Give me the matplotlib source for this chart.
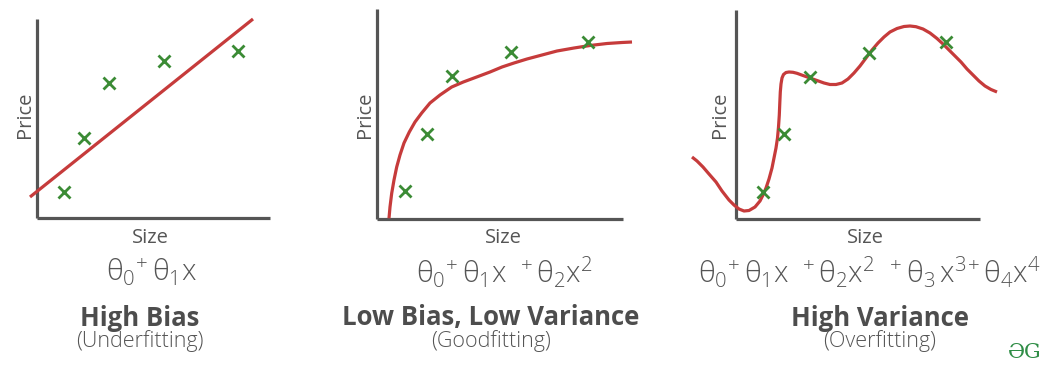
import matplotlib
matplotlib.use("Agg")
import matplotlib.pyplot as plt

# data (units: px from each panel's origin)
pts1_x = [27, 47, 72, 127, 201]
pts1_y = [26, 80, 135, 157, 167]
fit1_x = [-7, 216]
fit1_y = [21, 199]

pts2_x = [28, 50, 75, 134, 211]
pts2_y = [28, 85, 143, 167, 177]
fit2_x = [12, 13, 14.7, 17, 19.7, 23, 27, 32.3, 38, 44.7, 53, 63, 74.7, 86.3,
          99.7, 113, 125, 137, 150, 165, 180, 197, 213, 230, 245, 255]
fit2_y = [0.7, 12, 25.7, 39, 52, 64, 76, 87, 97, 106, 116, 124, 132, 137,
          142, 147, 152, 156, 160, 164, 168, 171, 173.5, 175.5, 176.5, 177]

pts3_x = [27, 48, 74, 133, 210]
pts3_y = [27, 85, 142, 166, 177]
fit3_x = [-44, -39, -33, -27, -20, -14, -7, -2, 3, 8, 13, 19, 24, 27, 30, 33,
          36, 38, 40, 41.5, 42.5, 43.3, 43.8, 44.3, 45, 46, 47.5, 50, 53, 57,
          61, 67, 74, 81, 88, 94, 100, 106, 112, 118, 124, 130, 136, 142, 148,
          154, 161, 168, 174, 180, 187, 194, 201, 207, 213, 219, 225, 231, 237,
          243, 249, 255, 261]
fit3_y = [62, 58, 52, 45, 37, 28, 19, 14, 10, 8, 8.5, 12, 18, 24, 31, 40, 51,
          61, 71, 81, 92, 104, 116, 127, 135, 141, 144.5, 146.5, 147, 146.7,
          145.7, 143.5, 141, 138.5, 136, 134.5, 134.5, 136, 140, 146, 153, 161,
          169, 176, 182, 187, 190.5, 192.5, 193, 192.3, 190, 186, 180.5, 175,
          169, 163, 157, 150, 144, 138, 133, 129.5, 127]

formulas = [r"$\theta_0{}^{+}\,\theta_1\mathrm{x}$",
            r"$\theta_0{}^{+}\,\theta_1\mathrm{x}\;\;{}^{+}\,\theta_2\mathrm{x}^2$",
            r"$\theta_0{}^{+}\,\theta_1\mathrm{x}\;\;{}^{+}\,\theta_2\mathrm{x}^2\;\;{}^{+}\,\theta_3\,\mathrm{x}^3{}^{+}\,\theta_4\mathrm{x}^4$"]
titles = ["High Bias", "Low Bias, Low Variance", "High Variance"]
subtitles = ["(Underfitting)", "(Goodfitting)", "(Overfitting)"]

plt.rcParams["font.family"] = ["Open Sans", "DejaVu Sans"]
plt.rcParams["mathtext.fontset"] = "custom"
plt.rcParams["mathtext.rm"] = "Open Sans:light"
plt.rcParams["mathtext.it"] = "Open Sans:light"
plt.rcParams["mathtext.bf"] = "Open Sans:light"

W, H = 1052, 372
RED = "#c63b3b"
GREEN = "#3b8b35"
GREY = "#555555"

fig = plt.figure(figsize=(W / 100, H / 100), dpi=100)

# panel layout in px: origin x, origin y, x-axis length, y-axis length, label centres
panels = [
    (37, 218, 233, 199, pts1_x, pts1_y, fit1_x, fit1_y, 25, 150, 151, 140),
    (377, 219, 246, 210, pts2_x, pts2_y, fit2_x, fit2_y, 365, 503, 504, 491),
    (736, 219, 244, 209, pts3_x, pts3_y, fit3_x, fit3_y, 720, 865, 870, 880),
]

def fx(px):
    return px / W

def fy(py):
    return 1 - py / H

for i, (ox, oy, xl, yl, px, py, lx, ly, price_x, size_x, form_x, title_x) in enumerate(panels):
    ax = fig.add_axes([fx(ox), fy(oy), xl / W, yl / H])
    ax.set_xlim(0, xl)
    ax.set_ylim(0, yl)
    ax.patch.set_visible(False)
    for s in ["top", "right"]:
        ax.spines[s].set_visible(False)
    for s in ["left", "bottom"]:
        ax.spines[s].set_color(GREY)
        ax.spines[s].set_linewidth(2.3)
        ax.spines[s].set_capstyle("butt")
    ax.set_xticks([])
    ax.set_yticks([])
    ax.plot(lx, ly, color=RED, lw=2.3, clip_on=False, solid_capstyle="butt",
            solid_joinstyle="round", zorder=3)
    ax.plot(px, py, "x", color=GREEN, ms=9, mew=2, clip_on=False, zorder=4)

    fig.text(fx(price_x), fy(115), "Price", rotation=90, fontsize=14.5,
             color=GREY, ha="center", va="center")
    fig.text(fx(size_x), fy(238), "Size", fontsize=14.5, color=GREY,
             ha="center", va="center")
    fig.text(fx(form_x), fy(272), formulas[i], fontsize=21, color=GREY,
             ha="center", va="center")
    fig.text(fx(title_x), fy(318), titles[i], fontsize=18.5, fontweight="bold",
             color="#4d4d4d", ha="center", va="center")
    fig.text(fx(title_x), fy(341), subtitles[i], fontsize=15.5, fontweight="light",
             color=GREY, ha="center", va="center")

fig.text(fx(1025), fy(352), "ƏG", fontsize=15, color="#2f8d46",
         family="DejaVu Serif", ha="center", va="center")

fig.savefig("out.png", dpi=100)
